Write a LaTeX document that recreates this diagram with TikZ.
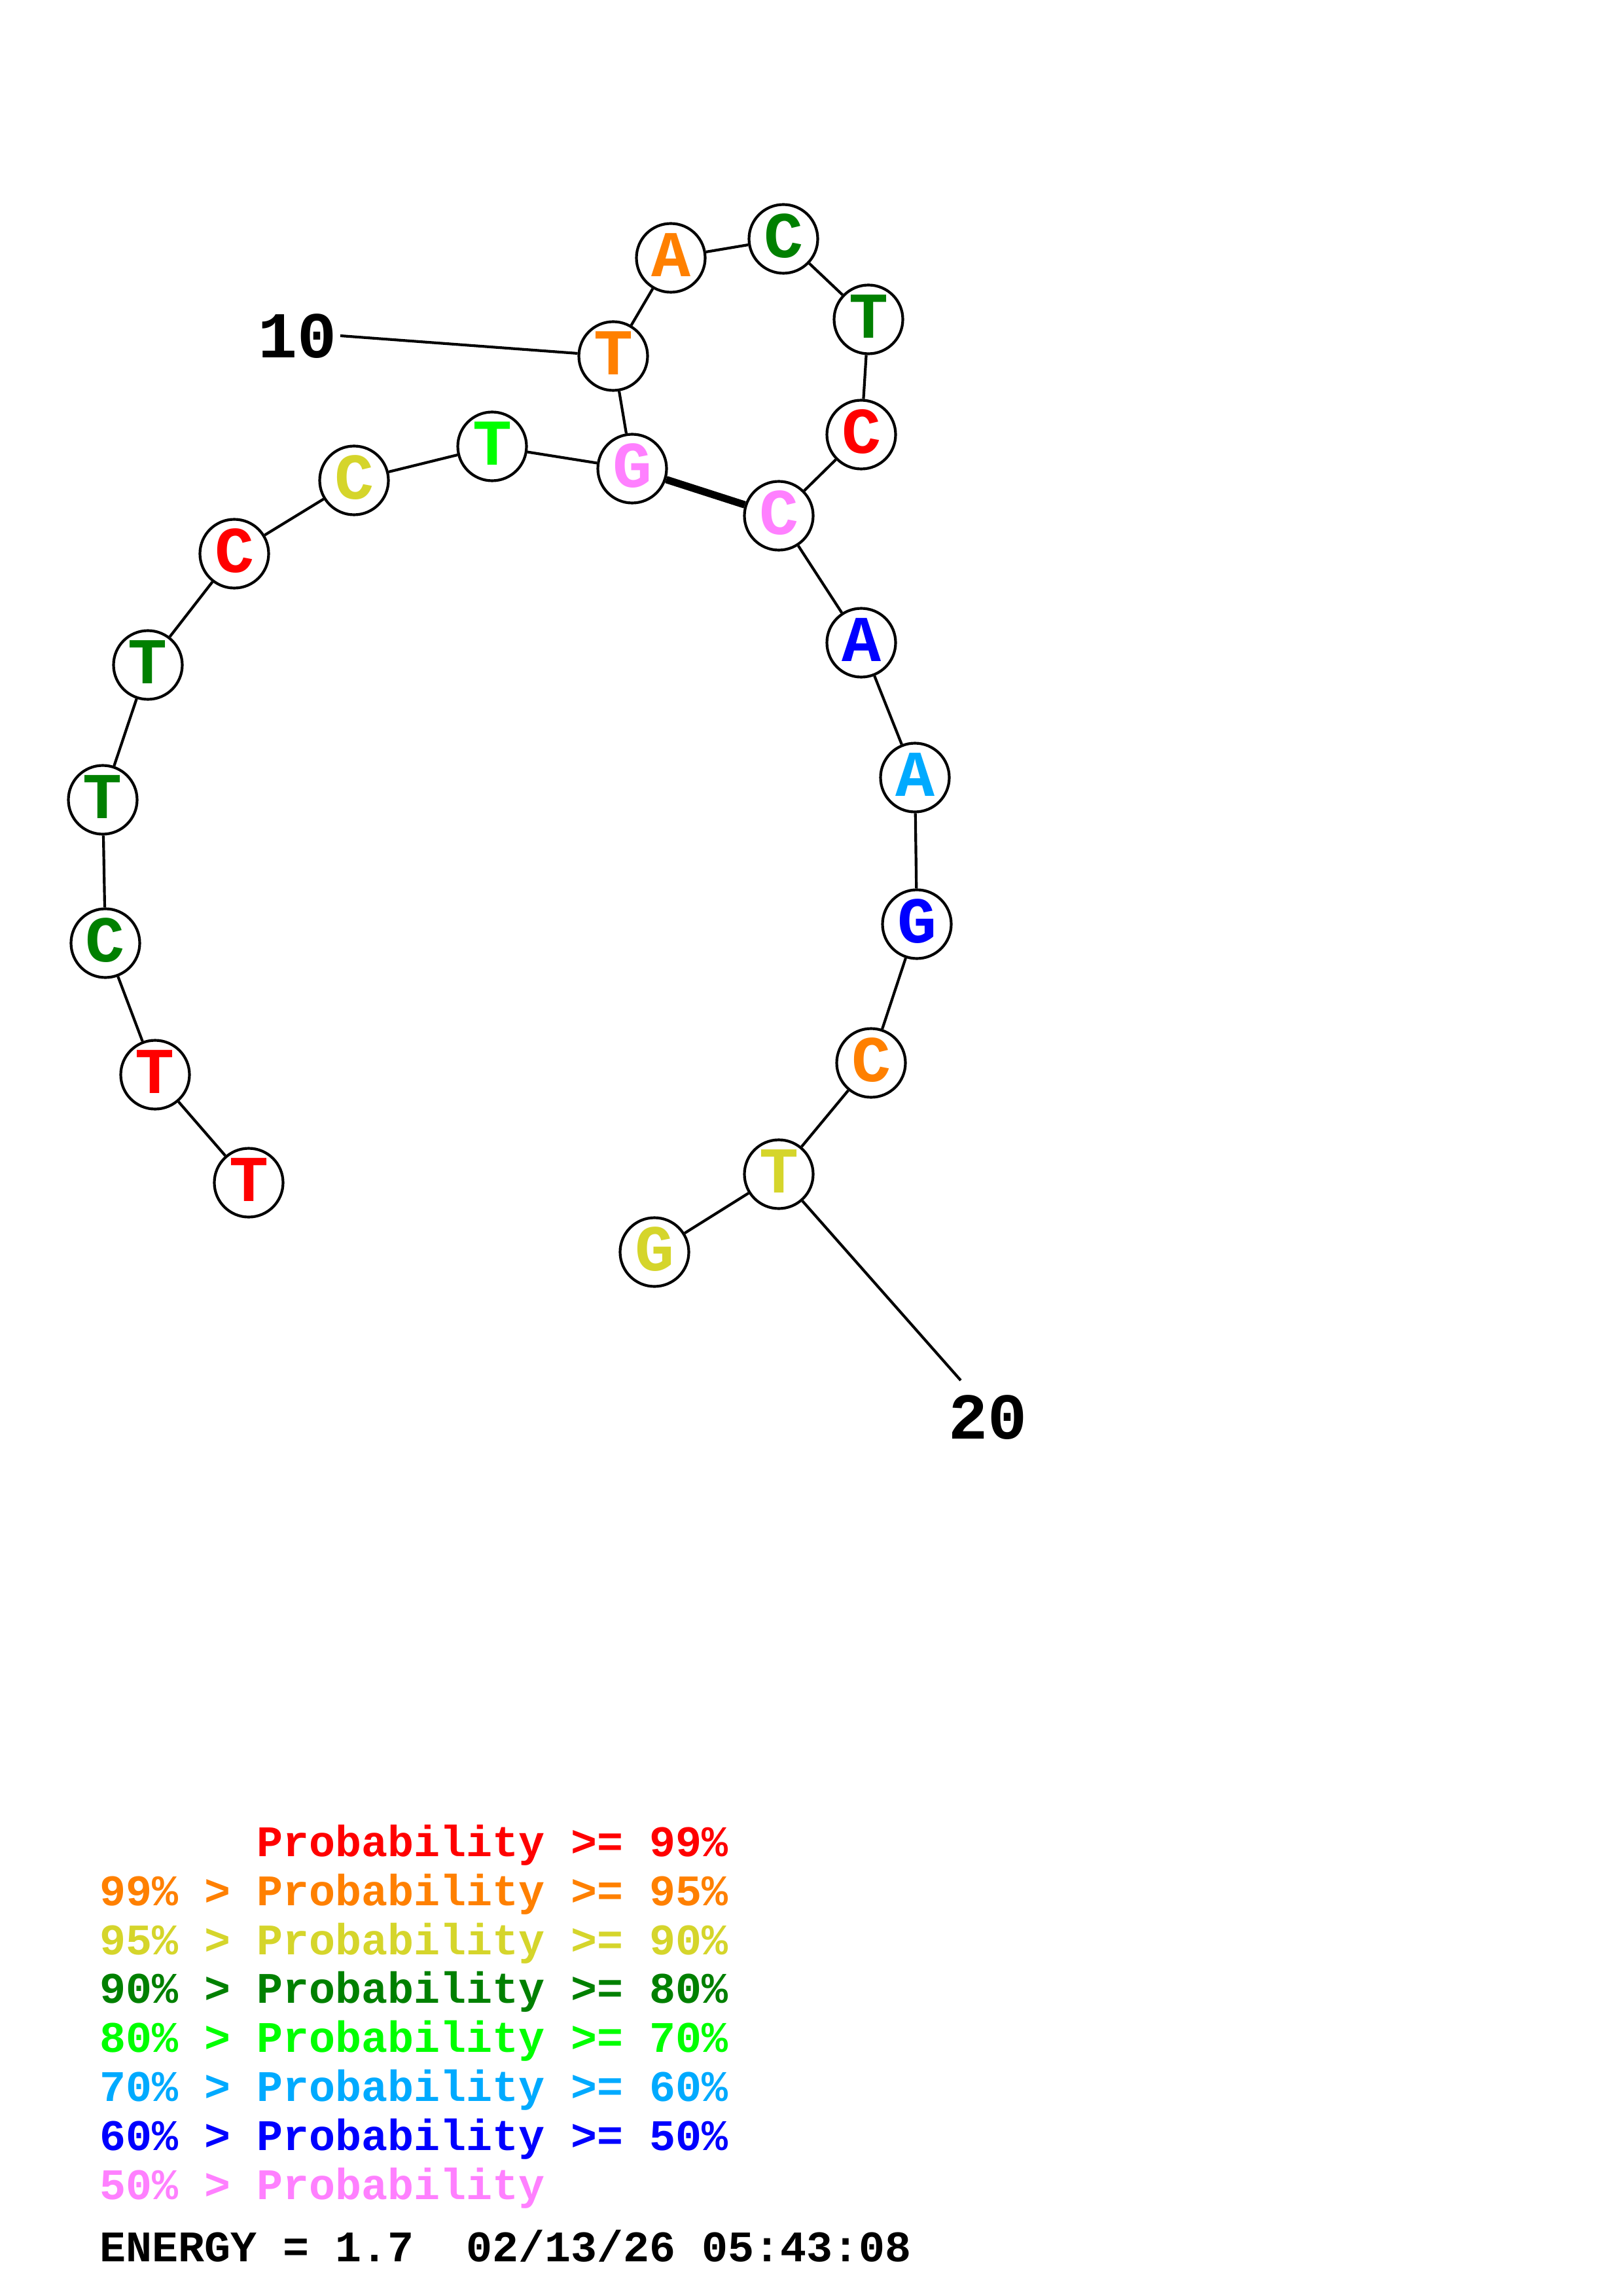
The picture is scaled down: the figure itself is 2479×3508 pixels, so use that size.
\documentclass[tikz,border=0pt]{standalone}
\usepackage{fontspec}
\newfontfamily\monob{Liberation Mono}[BoldFont={Liberation Mono Bold}]
\definecolor{cRed}{HTML}{FF0000}
\definecolor{cOrange}{HTML}{FF8000}
\definecolor{cYellow}{HTML}{D5D52B}
\definecolor{cDkGreen}{HTML}{008000}
\definecolor{cGreen}{HTML}{00FF00}
\definecolor{cLtBlue}{HTML}{00AAFF}
\definecolor{cBlue}{HTML}{0000FF}
\definecolor{cPink}{HTML}{FF80FF}
\tikzset{
  base/.style={circle,draw=black,line width=1pt,fill=white,minimum size=25.2pt,inner sep=0pt,
    font=\monob\bfseries\fontsize{24}{24}\selectfont,text depth=0pt,text height=13.7pt},
  bond/.style={draw=black,line width=1pt},
  pairbond/.style={draw=black,line width=2.7pt},
  numlabel/.style={anchor=base west,inner sep=0pt,font=\monob\bfseries\fontsize{24}{24}\selectfont},
  legend/.style={anchor=base west,inner sep=0pt,font=\monob\bfseries\fontsize{16}{16}\selectfont}
}
\begin{document}
\begin{tikzpicture}[x=0.24pt,y=-0.24pt]
\useasboundingbox[fill=white] (0,0) rectangle (2479,3508);
% nodes
\node[base,text=cRed]     (n1)  at (380,1807) {T};
\node[base,text=cRed]     (n2)  at (237,1642) {T};
\node[base,text=cDkGreen] (n3)  at (161,1441) {C};
\node[base,text=cDkGreen] (n4)  at (157,1222) {T};
\node[base,text=cDkGreen] (n5)  at (226,1016) {T};
\node[base,text=cRed]     (n6)  at (358,846)  {C};
\node[base,text=cYellow]  (n7)  at (541,734)  {C};
\node[base,text=cGreen]   (n8)  at (752,682)  {T};
\node[base,text=cPink]    (n9)  at (966,716)  {G};
\node[base,text=cOrange]  (n10) at (937,544)  {T};
\node[base,text=cOrange]  (n11) at (1025,394) {A};
\node[base,text=cDkGreen] (n12) at (1197,365) {C};
\node[base,text=cDkGreen] (n13) at (1327,488) {T};
\node[base,text=cRed]     (n14) at (1316,664) {C};
\node[base,text=cPink]    (n15) at (1190,788) {C};
\node[base,text=cBlue]    (n16) at (1316,982) {A};
\node[base,text=cLtBlue]  (n17) at (1398,1188) {A};
\node[base,text=cBlue]    (n18) at (1401,1412) {G};
\node[base,text=cOrange]  (n19) at (1331,1624) {C};
\node[base,text=cYellow]  (n20) at (1190,1794) {T};
\node[base,text=cYellow]  (n21) at (1000,1913) {G};
% backbone
\draw[bond] (n1)--(n2) (n2)--(n3) (n3)--(n4) (n4)--(n5) (n5)--(n6) (n6)--(n7) (n7)--(n8) (n8)--(n9)
  (n9)--(n10) (n10)--(n11) (n11)--(n12) (n12)--(n13) (n13)--(n14) (n14)--(n15) (n15)--(n16)
  (n16)--(n17) (n17)--(n18) (n18)--(n19) (n19)--(n20) (n20)--(n21);
% pair
\draw[pairbond] (n9)--(n15);
% numbering
\node[numlabel] (l10) at (394,547) {10};
\coordinate (c10) at (520,513);
\draw[bond] (c10)--(n10);
\node[numlabel] (l20) at (1449,2198) {20};
\coordinate (c20) at (1468,2109);
\draw[bond] (n20)--(c20);
% legend
\node[legend,text=cRed]     (g1) at (392,2836) {Probability >= 99\%};
\node[legend,text=cOrange]  (g2) at (152,2911) {99\% > Probability >= 95\%};
\node[legend,text=cYellow]  (g3) at (152,2986) {95\% > Probability >= 90\%};
\node[legend,text=cDkGreen] (g4) at (152,3060) {90\% > Probability >= 80\%};
\node[legend,text=cGreen]   (g5) at (152,3135) {80\% > Probability >= 70\%};
\node[legend,text=cLtBlue]  (g6) at (152,3210) {70\% > Probability >= 60\%};
\node[legend,text=cBlue]    (g7) at (152,3285) {60\% > Probability >= 50\%};
\node[legend,text=cPink]    (g8) at (152,3360) {50\% > Probability};
\node[legend,text=black]    (g9) at (152,3455) {ENERGY = 1.7\ \ 02/13/26 05:43:08};
\end{tikzpicture}
\end{document}
